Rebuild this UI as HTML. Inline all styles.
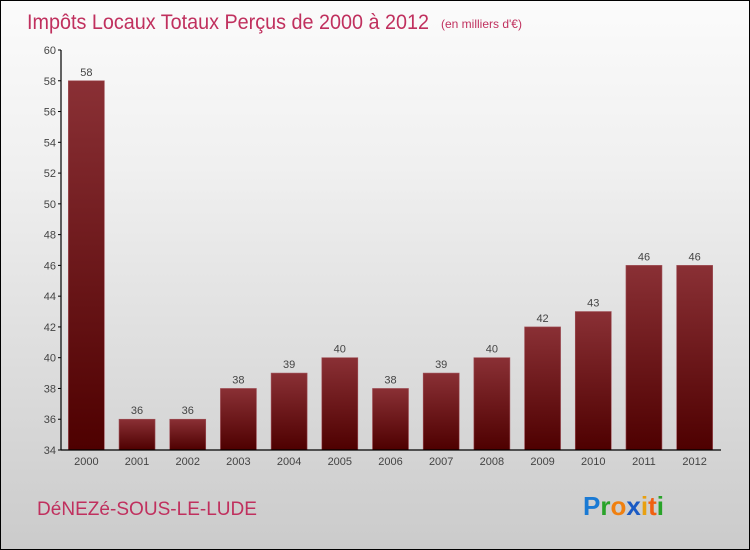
<!DOCTYPE html>
<html><head><meta charset="utf-8"><style>
html,body{margin:0;padding:0;width:750px;height:550px;overflow:hidden}
#c{position:relative;width:748px;height:548px;border:1px solid #000;background:linear-gradient(#fbfbfb,#f0f0f0 30%,#cbcbcb);font-family:"Liberation Sans",sans-serif}
</style></head><body>
<div id="c">
<svg width="748" height="548" xmlns="http://www.w3.org/2000/svg" id="svg">
<defs><linearGradient id="bg" x1="0" y1="0" x2="0" y2="1"><stop offset="0" stop-color="#8a3035"/><stop offset="1" stop-color="#4e0000"/></linearGradient></defs>
<text x="26" y="28" font-size="21" fill="#c0305e" textLength="402" lengthAdjust="spacingAndGlyphs">Impôts Locaux Totaux Perçus de 2000 à 2012</text>
<text x="440" y="27" font-size="12" fill="#c0305e">(en milliers d'€)</text>
<text x="36" y="514" font-size="19" fill="#c0305e" textLength="220" lengthAdjust="spacingAndGlyphs">DéNEZé-SOUS-LE-LUDE</text>
<g font-size="26" font-weight="bold" font-family="'Liberation Sans',sans-serif">
<text x="582" y="514"><tspan fill="#1a7ad4">P</tspan><tspan fill="#29a329">r</tspan><tspan fill="#f08010">o</tspan><tspan fill="#1a5ac4">x</tspan><tspan fill="#e8a010">i</tspan><tspan fill="#f06010">t</tspan><tspan fill="#29a329">i</tspan></text></g>
<g id="plot"></g>
</svg>
</div>
<script>
const categories=["2000","2001","2002","2003","2004","2005","2006","2007","2008","2009","2010","2011","2012"];
const values=[58,36,36,38,39,40,38,39,40,42,43,46,46];
const yTicks=[34,36,38,40,42,44,46,48,50,52,54,56,58,60];
const NS="http://www.w3.org/2000/svg";
const g=document.getElementById('plot');
const x0=60,x1=719,yTop=49,yBot=449,vMin=34,vMax=60;
const step=(x1-x0)/categories.length;
function y(v){return yBot-(v-vMin)/(vMax-vMin)*(yBot-yTop);}
function xc(i){return x0+step*(i+0.5);}
function el(t,a,txt){const e=document.createElementNS(NS,t);for(const k in a)e.setAttribute(k,a[k]);if(txt!=null)e.textContent=txt;g.appendChild(e);return e;}
values.forEach((v,i)=>{
 const r=el('rect',{x:xc(i)-18,y:y(v),width:36,height:yBot-y(v),fill:'url(#bg)',stroke:'#a05058','stroke-width':0.6});
 
 
 const t=el('text',{x:xc(i),y:y(v)-5,'text-anchor':'middle','font-size':11,fill:'#444'},String(v));
 
 
 const c=el('text',{x:xc(i),y:yBot+15,'text-anchor':'middle','font-size':11,fill:'#444'},categories[i]);
 
 
});
yTicks.forEach(v=>{
 el('line',{x1:x0-3,x2:x0,y1:y(v),y2:y(v),stroke:'#000'});
 const t=el('text',{x:x0-5,y:y(v)+4,'text-anchor':'end','font-size':11,fill:'#444'},String(v));
 
 
});
const ya=el('line',{x1:x0,x2:x0,y1:yTop,y2:yBot,stroke:'#000','stroke-width':1.2});


const xa=el('line',{x1:x0,x2:x1+1,y1:yBot,y2:yBot,stroke:'#000','stroke-width':1.2});


</script>
</body></html>
